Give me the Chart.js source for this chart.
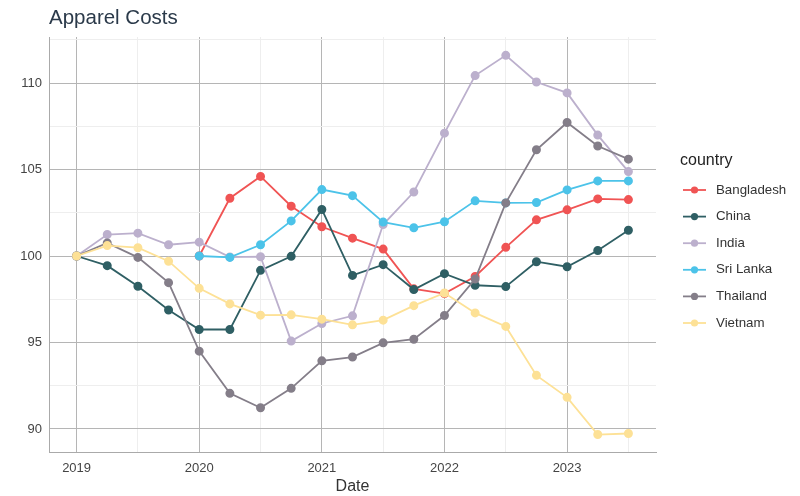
<!DOCTYPE html>
<html>
<head>
<meta charset="utf-8">
<script src="https://cdn.jsdelivr.net/npm/chart.js@4.4.1/dist/chart.umd.min.js"></script>
<style>
html,body{margin:0;padding:0;background:#fff;}
#wrap{width:800px;height:496px;position:relative;}
</style>
</head>
<body>
<div id="wrap"><canvas id="c" width="800" height="496"></canvas></div>
<script>
const quarters = [2019,2019.25,2019.5,2019.75,2020,2020.25,2020.5,2020.75,2021,2021.25,2021.5,2021.75,2022,2022.25,2022.5,2022.75,2023,2023.25,2023.5];
const countries = ['Bangladesh','China','India','Sri Lanka','Thailand','Vietnam'];
const bangladesh = [null,null,null,null,100,103.34,104.6,102.88,101.69,101.03,100.4,98.1,97.83,98.82,100.5,102.09,102.67,103.3,103.26];
const china = [100,99.44,98.25,96.88,95.75,95.75,99.17,99.98,102.69,98.88,99.5,98.06,98.98,98.31,98.23,99.67,99.38,100.32,101.49];
const india = [100,101.24,101.32,100.65,100.8,99.94,99.96,95.08,96.1,96.54,101.82,103.7,107.1,110.43,111.6,110.06,109.43,106.99,104.88];
const sriLanka = [null,null,null,null,100,99.92,100.65,102.03,103.84,103.49,101.96,101.63,101.98,103.19,103.07,103.09,103.82,104.34,104.34];
const thailand = [100,100.75,99.92,98.46,94.5,92.06,91.23,92.35,93.94,94.16,94.98,95.19,96.56,98.67,103.07,106.14,107.72,106.36,105.6];
const vietnam = [100,100.6,100.48,99.7,98.13,97.23,96.58,96.6,96.35,96.02,96.29,97.13,97.86,96.71,95.93,93.1,91.83,89.68,89.74];
const xTickLabels = [2019,2020,2021,2022,2023];
const yTickLabels = [90,95,100,105,110];

const series = [bangladesh, china, india, sriLanka, thailand, vietnam];
const colors = ['#F05454','#2F5F64','#BCB0CD','#4CC3E9','#847E89','#FDE196'];

const datasets = series.map((vals, i) => ({
  label: countries[i],
  data: quarters.map((q, j) => ({x: q, y: vals[j]})).filter(p => p.y !== null),
  borderColor: colors[i],
  backgroundColor: colors[i],
  pointBackgroundColor: colors[i],
  pointBorderColor: colors[i],
  borderWidth: 1.8,
  pointRadius: 3.6,
  pointHoverRadius: 3.6,
  tension: 0,
  order: series.length - i
}));

const legendPlugin = {
  id: 'ggLegend',
  afterDraw(chart) {
    const ctx = chart.ctx;
    ctx.save();
    ctx.textBaseline = 'middle';
    ctx.textAlign = 'left';
    ctx.fillStyle = '#222222';
    ctx.font = '16px "Liberation Sans", Arial, sans-serif';
    ctx.fillText('country', 680, 161);
    ctx.font = '13.3px "Liberation Sans", Arial, sans-serif';
    countries.forEach((name, i) => {
      const y = 190 + i * 26.6;
      ctx.strokeStyle = colors[i];
      ctx.lineWidth = 1.8;
      ctx.beginPath();
      ctx.moveTo(683, y);
      ctx.lineTo(706, y);
      ctx.stroke();
      ctx.fillStyle = colors[i];
      ctx.beginPath();
      ctx.arc(694.5, y, 3.6, 0, Math.PI * 2);
      ctx.fill();
      ctx.fillStyle = '#333333';
      ctx.fillText(name, 716, y);
    });
    ctx.restore();
  }
};

new Chart(document.getElementById('c'), {
  type: 'line',
  data: { datasets },
  plugins: [legendPlugin],
  options: {
    responsive: false,
    animation: false,
    devicePixelRatio: 1,
    layout: { padding: { left: 0, right: 144, top: 0, bottom: 0 } },
    plugins: {
      legend: { display: false },
      tooltip: { enabled: false },
      title: {
        display: true,
        text: 'Apparel Costs',
        align: 'start',
        fullSize: false,
        color: '#2B3A4A',
        font: { family: '"Liberation Sans", Arial, sans-serif', size: 20.5, weight: 'normal' },
        padding: { top: 6, bottom: 6.4 }
      }
    },
    scales: {
      x: {
        type: 'linear',
        min: 2018.775,
        max: 2023.725,
        afterBuildTicks(scale) {
          const t = [];
          xTickLabels.forEach(v => { t.push({value: v}); t.push({value: v + 0.5}); });
          t.unshift({value: 2018.5});
          scale.ticks = t.filter(k => k.value >= scale.min && k.value <= scale.max);
        },
        afterFit(scale) { scale.height = 44; },
        ticks: {
          autoSkip: false,
          maxRotation: 0,
          padding: 9,
          color: '#444444',
          font: { family: '"Liberation Sans", Arial, sans-serif', size: 13 },
          callback(v) { return Number.isInteger(v) ? String(v) : ''; }
        },
        grid: {
          drawTicks: false,
          tickLength: 0,
          color(ctx) { return (ctx.tick && Number.isInteger(ctx.tick.value)) ? '#B5B5B5' : '#EEEEEE'; },
          lineWidth: 1
        },
        border: { display: true, color: '#AAAAAA', width: 1 },
        title: {
          display: true,
          text: 'Date',
          color: '#333333',
          font: { family: '"Liberation Sans", Arial, sans-serif', size: 16 },
          padding: { top: 0, bottom: 0 }
        }
      },
      y: {
        type: 'linear',
        min: 88.67,
        max: 112.66,
        afterBuildTicks(scale) {
          const t = [];
          for (let v = 87.5; v <= 112.5; v += 2.5) t.push({value: v});
          scale.ticks = t.filter(k => k.value >= scale.min && k.value <= scale.max);
        },
        afterFit(scale) { scale.width = 49; },
        ticks: {
          autoSkip: false,
          padding: 7,
          color: '#444444',
          font: { family: '"Liberation Sans", Arial, sans-serif', size: 13 },
          callback(v) { return yTickLabels.includes(v) ? String(v) : ''; }
        },
        grid: {
          drawTicks: false,
          tickLength: 0,
          color(ctx) { return (ctx.tick && ctx.tick.value % 5 === 0) ? '#B5B5B5' : '#EEEEEE'; },
          lineWidth: 1
        },
        border: { display: true, color: '#AAAAAA', width: 1 }
      }
    }
  }
});
</script>
</body>
</html>
